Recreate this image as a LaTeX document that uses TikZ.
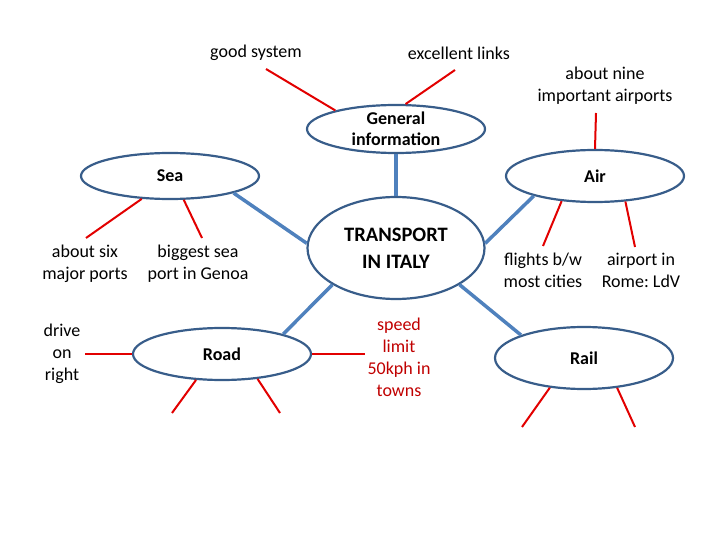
\documentclass[tikz,border=0pt]{standalone}
\usepackage{fontspec}
\setmainfont{Carlito}
\usetikzlibrary{shapes.geometric}
\definecolor{linkColor}{RGB}{79,129,189}
\definecolor{rimColor}{RGB}{56,93,138}
\definecolor{noteColor}{RGB}{226,0,0}
\definecolor{speedColor}{RGB}{192,0,0}
\frenchspacing

\begin{document}
\begin{tikzpicture}[x=1pt,y=-1pt]

          \tikzstyle{topicNode} = [ellipse, draw=rimColor, line width=2.2pt, minimum width=178pt, minimum height=48pt, inner sep=0pt, align=center, font=\bfseries\fontsize{18}{21}\selectfont];
          \tikzstyle{hubNode} = [topicNode, minimum width=177pt, minimum height=102pt, font=\bfseries\fontsize{20.5}{27}\selectfont];
          \tikzstyle{textNode} = [align=center, inner sep=0pt, font=\fontsize{18}{22}\selectfont];
          \tikzstyle{speedNode} = [textNode, speedColor];

          \tikzstyle{linkEdge} = [line width=3.5pt, linkColor];
          \tikzstyle{noteEdge} = [line width=2pt, noteColor];

          \useasboundingbox (0,0) rectangle (720,540);

          % ellipses
          \node[hubNode] (hub) at (396,248) {TRANSPORT\\IN ITALY};
          \node[topicNode] (general) at (396,129) {General\\information};
          \node[topicNode, minimum height=46pt] (sea) at (170,176) {Sea};
          \node[topicNode, minimum height=52pt] (air) at (595,176) {Air};
          \node[topicNode, minimum height=52pt] (road) at (222,354) {Road};
          \node[topicNode, minimum height=62pt] (rail) at (584,358) {Rail};

          % notes
          \node[textNode] (goodsys) at (256,53) {good system};
          \node[textNode] (links) at (459,53) {excellent links};
          \node[textNode] (airports) at (605,86) {about nine\\important airports};
          \node[textNode] (ports) at (85,264) {about six\\major ports};
          \node[textNode] (genoa) at (198,264) {biggest sea\\port in Genoa};
          \node[textNode] (flights) at (543,270) {flights b/w\\most cities};
          \node[textNode] (rome) at (641,270) {airport in\\Rome: LdV};
          \node[textNode] (drive) at (62,354) {drive\\on\\right};
          \node[speedNode] (speed) at (399,357) {speed\\limit\\50kph in\\towns};

          \coordinate (goodEnd) at (266,69);
          \coordinate (linksEnd) at (455,70);
          \coordinate (airportsEnd) at (596,113);
          \coordinate (portsEnd) at (86,238);
          \coordinate (genoaEnd) at (202,238);
          \coordinate (flightsEnd) at (543,246);
          \coordinate (romeEnd) at (635,247);
          \coordinate (driveEnd) at (85,354);
          \coordinate (speedEnd) at (365,354);
          \coordinate (roadA) at (172,413);
          \coordinate (roadB) at (280,413);
          \coordinate (railA) at (522,427);
          \coordinate (railB) at (635,427);

          \draw[linkEdge] (general) -- (hub);
          \draw[linkEdge] (sea.-15) -- (hub.177);
          \draw[linkEdge] (air.-162) -- (hub.3);
          \draw[linkEdge] (road.18) -- (hub.210);
          \draw[linkEdge] (rail.160) -- (hub.-30);

          \draw[noteEdge] (general.163) -- (goodEnd);
          \draw[noteEdge] (general.69) -- (linksEnd);
          \draw[noteEdge] (air.north) -- (airportsEnd);
          \draw[noteEdge] (sea.219) -- (portsEnd);
          \draw[noteEdge] (sea.-60) -- (genoaEnd);
          \draw[noteEdge] (air.-143) -- (flightsEnd);
          \draw[noteEdge] (air.-40) -- (romeEnd);
          \draw[noteEdge] (road.west) -- (driveEnd);
          \draw[noteEdge] (road.east) -- (speedEnd);
          \draw[noteEdge] (road.-135) -- (roadA);
          \draw[noteEdge] (road.-35) -- (roadB);
          \draw[noteEdge] (rail.-139) -- (railA);
          \draw[noteEdge] (rail.-42) -- (railB);
        \end{tikzpicture}
\end{document}
